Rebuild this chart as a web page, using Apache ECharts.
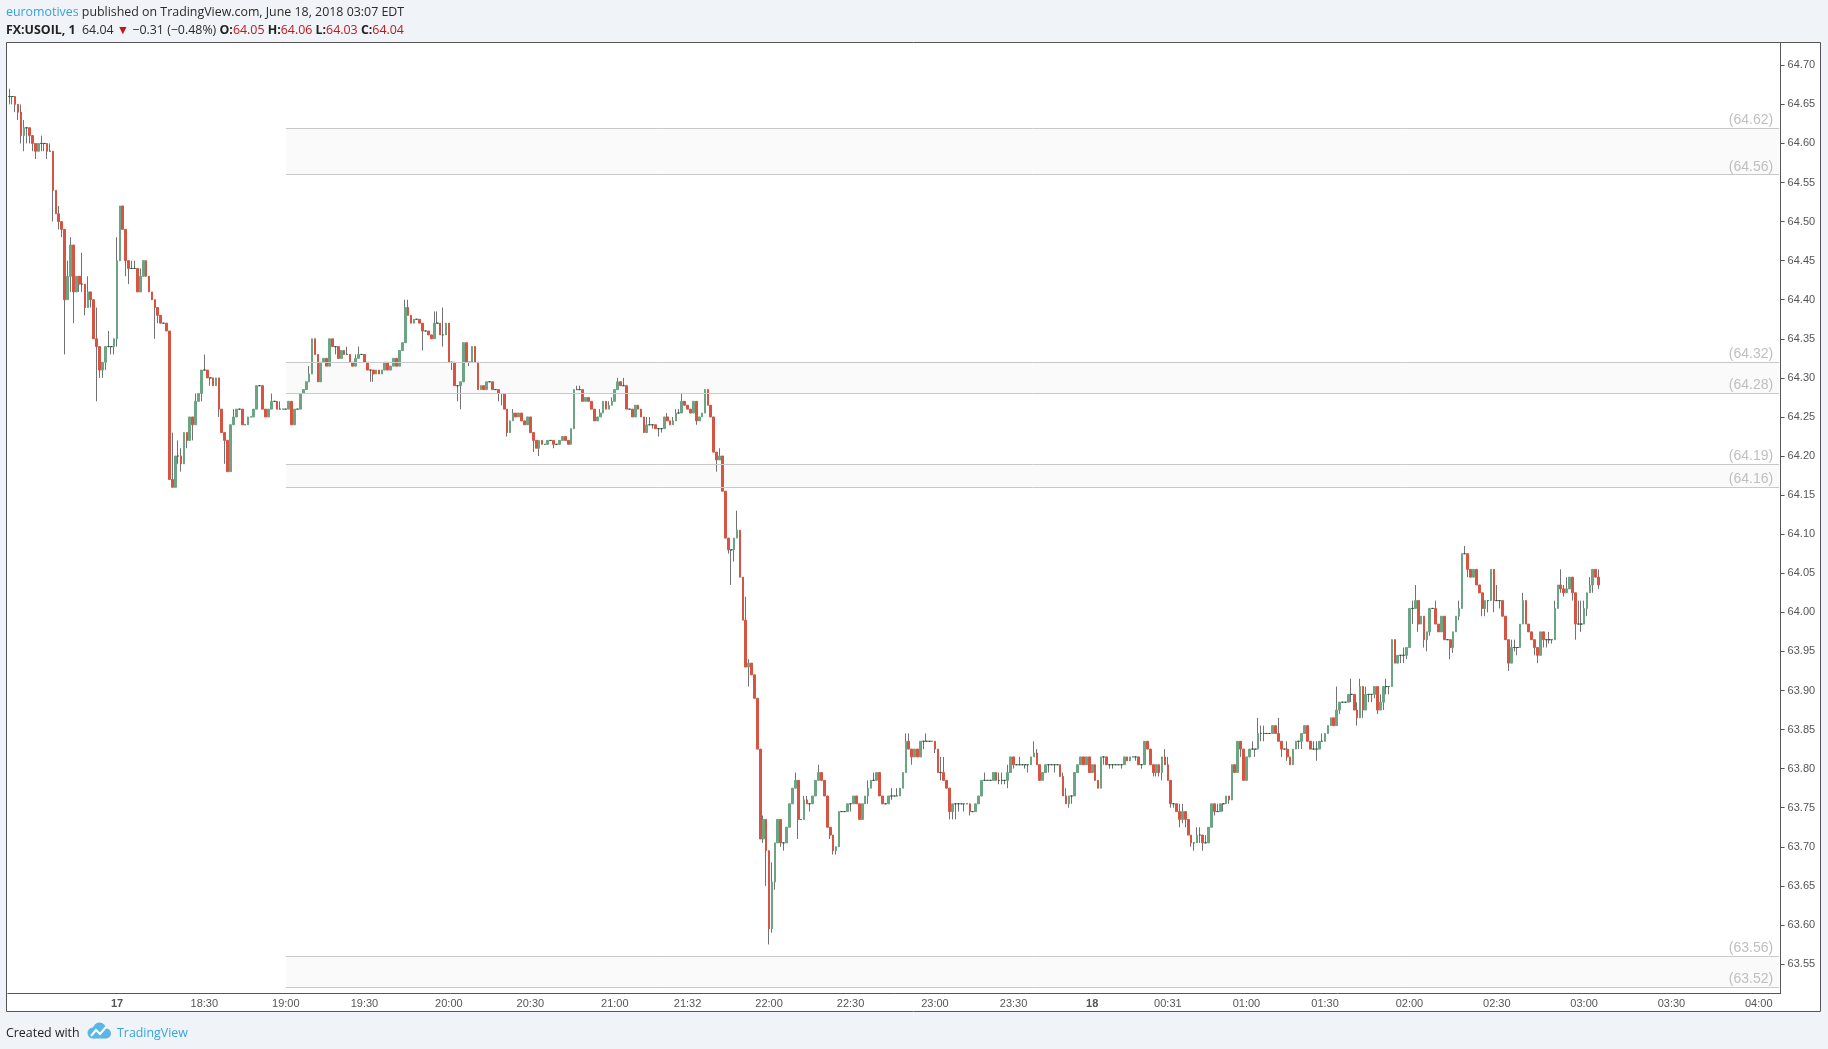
<!DOCTYPE html>
<html>
<head>
<meta charset="utf-8">
<title>FX:USOIL, 1</title>
<script src="https://cdn.jsdelivr.net/npm/echarts@6/dist/echarts.min.js"></script>
<style>
  html, body { margin: 0; padding: 0; background: #f0f3f7; }
  #main { width: 1828px; height: 1049px; }
</style>
</head>
<body>
<div id="main"></div>
<script>
// one-minute bars (index = bar slot on the time axis)
const opens = [
  /* 0 */ 64.66,64.66,64.66,64.65,64.64,64.61,64.62,64.62,64.61,64.60,
  /* 10 */ 64.59,64.60,64.60,64.60,64.59,64.59,64.54,64.51,64.50,64.49,
  /* 20 */ 64.40,64.43,64.47,64.41,64.43,64.42,64.42,64.39,64.41,64.40,
  /* 30 */ 64.35,64.34,64.31,64.32,64.34,64.34,64.34,64.35,64.45,64.52,
  /* 40 */ 64.49,64.45,64.44,64.44,64.44,64.41,64.43,64.45,64.43,64.41,
  /* 50 */ 64.40,64.39,64.38,64.37,64.37,64.36,64.17,64.16,64.20,64.20,
  /* 60 */ 64.19,64.23,64.22,64.25,64.24,64.27,64.28,64.31,64.31,64.30,
  /* 70 */ 64.30,64.29,64.30,64.26,64.23,64.22,64.18,64.24,64.25,64.26,
  /* 80 */ 64.26,64.24,64.24,64.25,64.25,64.26,64.29,64.29,64.26,64.25,
  /* 90 */ 64.26,64.27,64.27,64.26,64.26,64.26,64.26,64.27,64.24,64.26,
  /* 100 */ 64.26,64.28,64.285,64.295,64.305,64.35,64.33,64.295,64.32,64.325,
  /* 110 */ 64.315,64.35,64.34,64.34,64.325,64.335,64.33,64.33,64.32,64.315,
  /* 120 */ 64.325,64.33,64.33,64.32,64.31,64.31,64.305,64.31,64.305,64.31,
  /* 130 */ 64.32,64.31,64.315,64.325,64.315,64.335,64.345,64.39,64.38,64.37,
  /* 140 */ 64.375,64.375,64.37,64.36,64.36,64.355,64.35,64.37,64.37,64.355,
  /* 150 */ 64.355,64.37,64.32,64.32,64.29,64.29,64.295,64.345,64.32,64.32,
  /* 160 */ 64.34,64.32,64.285,64.29,64.285,64.295,64.295,64.285,64.285,64.28,
  /* 170 */ 64.28,64.26,64.23,64.245,64.255,64.25,64.255,64.245,64.24,64.25,
  /* 180 */ 64.23,64.22,64.21,64.22,64.215,64.215,64.22,64.22,64.215,64.215,
  /* 190 */ 64.22,64.225,64.22,64.215,64.235,64.285,64.285,64.285,64.27,64.275,
  /* 200 */ 64.27,64.26,64.245,64.25,64.255,64.27,64.26,64.265,64.27,64.285,
  /* 210 */ 64.295,64.29,64.29,64.26,64.26,64.25,64.265,64.26,64.25,64.23,
  /* 220 */ 64.24,64.24,64.24,64.235,64.235,64.235,64.25,64.245,64.24,64.245,
  /* 230 */ 64.255,64.255,64.27,64.265,64.26,64.255,64.27,64.245,64.25,64.255,
  /* 240 */ 64.285,64.265,64.25,64.205,64.195,64.20,64.155,64.095,64.08,64.08,
  /* 250 */ 64.095,64.105,64.045,63.99,63.93,63.935,63.92,63.89,63.825,63.71,
  /* 260 */ 63.735,63.695,63.595,63.655,63.705,63.735,63.705,63.705,63.725,63.755,
  /* 270 */ 63.775,63.785,63.735,63.735,63.76,63.755,63.755,63.765,63.785,63.795,
  /* 280 */ 63.785,63.765,63.725,63.715,63.695,63.70,63.745,63.745,63.745,63.755,
  /* 290 */ 63.755,63.765,63.755,63.735,63.755,63.765,63.775,63.785,63.785,63.795,
  /* 300 */ 63.765,63.755,63.755,63.765,63.765,63.765,63.765,63.775,63.795,63.835,
  /* 310 */ 63.825,63.815,63.825,63.815,63.835,63.835,63.835,63.835,63.835,63.825,
  /* 320 */ 63.795,63.795,63.785,63.775,63.745,63.755,63.755,63.755,63.755,63.755,
  /* 330 */ 63.755,63.745,63.745,63.755,63.765,63.785,63.785,63.785,63.785,63.795,
  /* 340 */ 63.785,63.785,63.785,63.785,63.795,63.815,63.805,63.805,63.805,63.805,
  /* 350 */ 63.805,63.805,63.815,63.82,63.805,63.785,63.795,63.805,63.805,63.805,
  /* 360 */ 63.805,63.805,63.79,63.765,63.755,63.765,63.765,63.795,63.805,63.815,
  /* 370 */ 63.805,63.815,63.795,63.805,63.785,63.775,63.815,63.815,63.805,63.805,
  /* 380 */ 63.805,63.805,63.805,63.805,63.815,63.81,63.815,63.815,63.815,63.805,
  /* 390 */ 63.805,63.835,63.825,63.805,63.795,63.805,63.795,63.815,63.805,63.785,
  /* 400 */ 63.755,63.755,63.745,63.735,63.745,63.735,63.715,63.705,63.705,63.715,
  /* 410 */ 63.715,63.705,63.705,63.725,63.755,63.745,63.745,63.755,63.755,63.765,
  /* 420 */ 63.76,63.805,63.795,63.835,63.825,63.785,63.815,63.825,63.825,63.825,
  /* 430 */ 63.845,63.845,63.845,63.845,63.845,63.855,63.845,63.835,63.825,63.825,
  /* 440 */ 63.815,63.805,63.825,63.835,63.835,63.845,63.855,63.835,63.825,63.825,
  /* 450 */ 63.825,63.835,63.835,63.845,63.855,63.865,63.855,63.875,63.885,63.885,
  /* 460 */ 63.885,63.895,63.895,63.875,63.865,63.905,63.875,63.895,63.895,63.895,
  /* 470 */ 63.905,63.875,63.885,63.905,63.905,63.905,63.965,63.935,63.945,63.945,
  /* 480 */ 63.945,63.955,64.005,64.005,64.015,63.985,63.995,63.965,63.975,64.005,
  /* 490 */ 64.005,63.985,63.975,63.995,63.965,63.965,63.955,63.975,63.995,64.005,
  /* 500 */ 64.075,64.075,64.055,64.045,64.055,64.035,64.025,64.005,64.015,64.015,
  /* 510 */ 64.055,64.015,64.015,64.015,63.995,63.965,63.935,63.955,63.955,63.955,
  /* 520 */ 63.985,64.015,63.985,63.975,63.965,63.955,63.945,63.975,63.965,63.965,
  /* 530 */ 63.965,63.965,64.005,64.035,64.03,64.025,64.03,64.045,64.025,63.985,
  /* 540 */ 63.985,63.985,64.005,64.025,64.035,64.055,64.045
];

const closes = [
  /* 0 */ 64.66,64.66,64.65,64.64,64.61,64.62,64.62,64.61,64.60,64.59,
  /* 10 */ 64.60,64.60,64.60,64.59,64.59,64.54,64.51,64.50,64.49,64.40,
  /* 20 */ 64.43,64.47,64.41,64.43,64.42,64.42,64.39,64.41,64.40,64.35,
  /* 30 */ 64.34,64.31,64.32,64.34,64.34,64.34,64.35,64.45,64.52,64.49,
  /* 40 */ 64.45,64.44,64.44,64.44,64.41,64.43,64.45,64.43,64.41,64.40,
  /* 50 */ 64.39,64.38,64.37,64.37,64.36,64.17,64.16,64.20,64.20,64.19,
  /* 60 */ 64.23,64.22,64.25,64.24,64.27,64.28,64.31,64.31,64.30,64.30,
  /* 70 */ 64.29,64.30,64.26,64.23,64.22,64.18,64.24,64.25,64.26,64.26,
  /* 80 */ 64.24,64.24,64.25,64.25,64.26,64.29,64.29,64.26,64.25,64.26,
  /* 90 */ 64.27,64.27,64.26,64.26,64.26,64.26,64.27,64.24,64.26,64.26,
  /* 100 */ 64.28,64.285,64.295,64.305,64.35,64.33,64.295,64.32,64.325,64.315,
  /* 110 */ 64.35,64.34,64.34,64.325,64.335,64.33,64.33,64.32,64.315,64.325,
  /* 120 */ 64.33,64.33,64.32,64.31,64.31,64.305,64.31,64.305,64.31,64.32,
  /* 130 */ 64.31,64.315,64.325,64.315,64.335,64.345,64.39,64.38,64.37,64.375,
  /* 140 */ 64.375,64.37,64.36,64.36,64.355,64.35,64.37,64.37,64.355,64.355,
  /* 150 */ 64.37,64.32,64.32,64.29,64.29,64.295,64.345,64.32,64.32,64.34,
  /* 160 */ 64.32,64.285,64.29,64.285,64.295,64.295,64.285,64.285,64.28,64.28,
  /* 170 */ 64.26,64.23,64.245,64.255,64.25,64.255,64.245,64.24,64.25,64.23,
  /* 180 */ 64.22,64.21,64.22,64.215,64.215,64.22,64.22,64.215,64.215,64.22,
  /* 190 */ 64.225,64.22,64.215,64.235,64.285,64.285,64.285,64.27,64.275,64.27,
  /* 200 */ 64.26,64.245,64.25,64.255,64.27,64.26,64.265,64.27,64.285,64.295,
  /* 210 */ 64.29,64.29,64.26,64.26,64.25,64.265,64.26,64.25,64.23,64.24,
  /* 220 */ 64.24,64.24,64.235,64.235,64.235,64.25,64.245,64.24,64.245,64.255,
  /* 230 */ 64.255,64.27,64.265,64.26,64.255,64.27,64.245,64.25,64.255,64.285,
  /* 240 */ 64.265,64.25,64.205,64.195,64.20,64.155,64.095,64.08,64.08,64.095,
  /* 250 */ 64.105,64.045,63.99,63.93,63.935,63.92,63.89,63.825,63.71,63.735,
  /* 260 */ 63.695,63.595,63.655,63.705,63.735,63.705,63.705,63.725,63.755,63.775,
  /* 270 */ 63.785,63.735,63.735,63.76,63.755,63.755,63.765,63.785,63.795,63.785,
  /* 280 */ 63.765,63.725,63.715,63.695,63.70,63.745,63.745,63.745,63.755,63.755,
  /* 290 */ 63.765,63.755,63.735,63.755,63.765,63.775,63.785,63.785,63.795,63.765,
  /* 300 */ 63.755,63.755,63.765,63.765,63.765,63.765,63.775,63.795,63.835,63.825,
  /* 310 */ 63.815,63.825,63.815,63.835,63.835,63.835,63.835,63.835,63.825,63.795,
  /* 320 */ 63.795,63.785,63.775,63.745,63.755,63.755,63.755,63.755,63.755,63.755,
  /* 330 */ 63.745,63.745,63.755,63.765,63.785,63.785,63.785,63.785,63.795,63.785,
  /* 340 */ 63.785,63.785,63.785,63.795,63.815,63.805,63.805,63.805,63.805,63.805,
  /* 350 */ 63.805,63.815,63.82,63.805,63.785,63.795,63.805,63.805,63.805,63.805,
  /* 360 */ 63.805,63.79,63.765,63.755,63.765,63.765,63.795,63.805,63.815,63.805,
  /* 370 */ 63.815,63.795,63.805,63.785,63.775,63.815,63.815,63.805,63.805,63.805,
  /* 380 */ 63.805,63.805,63.805,63.815,63.81,63.815,63.815,63.815,63.805,63.805,
  /* 390 */ 63.835,63.825,63.805,63.795,63.805,63.795,63.815,63.805,63.785,63.755,
  /* 400 */ 63.755,63.745,63.735,63.745,63.735,63.715,63.705,63.705,63.715,63.715,
  /* 410 */ 63.705,63.705,63.725,63.755,63.745,63.745,63.755,63.755,63.765,63.76,
  /* 420 */ 63.805,63.795,63.835,63.825,63.785,63.815,63.825,63.825,63.825,63.845,
  /* 430 */ 63.845,63.845,63.845,63.845,63.855,63.845,63.835,63.825,63.825,63.815,
  /* 440 */ 63.805,63.825,63.835,63.835,63.845,63.855,63.835,63.825,63.825,63.825,
  /* 450 */ 63.835,63.835,63.845,63.855,63.865,63.855,63.875,63.885,63.885,63.885,
  /* 460 */ 63.895,63.895,63.875,63.865,63.905,63.875,63.895,63.895,63.895,63.905,
  /* 470 */ 63.875,63.885,63.905,63.905,63.905,63.965,63.935,63.945,63.945,63.945,
  /* 480 */ 63.955,64.005,64.005,64.015,63.985,63.995,63.965,63.975,64.005,64.005,
  /* 490 */ 63.985,63.975,63.995,63.965,63.965,63.955,63.975,63.995,64.005,64.075,
  /* 500 */ 64.075,64.055,64.045,64.055,64.035,64.025,64.005,64.015,64.015,64.055,
  /* 510 */ 64.015,64.015,64.015,63.995,63.965,63.935,63.955,63.955,63.955,63.985,
  /* 520 */ 64.015,63.985,63.975,63.965,63.955,63.945,63.975,63.965,63.965,63.965,
  /* 530 */ 63.965,64.005,64.035,64.03,64.025,64.03,64.045,64.025,63.985,63.985,
  /* 540 */ 63.985,64.005,64.025,64.035,64.055,64.045,64.035
];

const lows = [
  /* 0 */ 64.65,64.65,64.64,64.63,64.60,64.59,64.60,64.60,64.59,64.58,
  /* 10 */ 64.59,64.59,64.59,64.58,64.59,64.50,64.51,64.49,64.48,64.33,
  /* 20 */ 64.40,64.41,64.37,64.41,64.41,64.41,64.38,64.39,64.39,64.35,
  /* 30 */ 64.27,64.30,64.30,64.31,64.34,64.33,64.33,64.34,64.45,64.49,
  /* 40 */ 64.43,64.42,64.44,64.44,64.41,64.41,64.43,64.43,64.41,64.40,
  /* 50 */ 64.35,64.37,64.37,64.37,64.36,64.17,64.16,64.16,64.19,64.18,
  /* 60 */ 64.19,64.21,64.22,64.22,64.24,64.27,64.27,64.31,64.30,64.29,
  /* 70 */ 64.29,64.29,64.25,64.23,64.19,64.18,64.18,64.24,64.25,64.26,
  /* 80 */ 64.24,64.24,64.24,64.25,64.25,64.26,64.29,64.26,64.25,64.25,
  /* 90 */ 64.26,64.27,64.26,64.26,64.26,64.26,64.26,64.24,64.24,64.26,
  /* 100 */ 64.26,64.28,64.285,64.295,64.305,64.33,64.295,64.295,64.32,64.315,
  /* 110 */ 64.315,64.34,64.33,64.325,64.325,64.33,64.33,64.32,64.315,64.315,
  /* 120 */ 64.325,64.33,64.32,64.31,64.295,64.295,64.305,64.305,64.305,64.31,
  /* 130 */ 64.31,64.31,64.315,64.315,64.315,64.335,64.345,64.38,64.37,64.37,
  /* 140 */ 64.375,64.37,64.335,64.36,64.355,64.35,64.35,64.37,64.355,64.34,
  /* 150 */ 64.355,64.32,64.31,64.29,64.27,64.26,64.295,64.32,64.315,64.32,
  /* 160 */ 64.32,64.285,64.285,64.285,64.285,64.295,64.285,64.285,64.27,64.265,
  /* 170 */ 64.26,64.225,64.23,64.245,64.25,64.25,64.245,64.24,64.24,64.23,
  /* 180 */ 64.205,64.21,64.20,64.215,64.215,64.215,64.22,64.21,64.215,64.215,
  /* 190 */ 64.22,64.22,64.215,64.215,64.235,64.285,64.285,64.27,64.27,64.27,
  /* 200 */ 64.26,64.245,64.245,64.25,64.255,64.26,64.26,64.265,64.27,64.285,
  /* 210 */ 64.29,64.29,64.26,64.26,64.25,64.25,64.26,64.25,64.23,64.23,
  /* 220 */ 64.24,64.235,64.235,64.225,64.23,64.235,64.245,64.24,64.24,64.245,
  /* 230 */ 64.255,64.255,64.265,64.26,64.255,64.255,64.24,64.245,64.25,64.255,
  /* 240 */ 64.265,64.25,64.205,64.18,64.195,64.155,64.095,64.075,64.035,64.065,
  /* 250 */ 64.095,64.045,63.99,63.93,63.905,63.92,63.89,63.825,63.71,63.705,
  /* 260 */ 63.65,63.575,63.59,63.645,63.705,63.70,63.695,63.705,63.725,63.755,
  /* 270 */ 63.775,63.71,63.735,63.735,63.755,63.745,63.755,63.765,63.785,63.785,
  /* 280 */ 63.765,63.725,63.71,63.69,63.69,63.70,63.745,63.745,63.745,63.745,
  /* 290 */ 63.755,63.755,63.735,63.735,63.755,63.755,63.775,63.785,63.785,63.765,
  /* 300 */ 63.755,63.755,63.755,63.76,63.765,63.765,63.765,63.775,63.795,63.825,
  /* 310 */ 63.805,63.815,63.815,63.815,63.825,63.835,63.835,63.835,63.82,63.795,
  /* 320 */ 63.785,63.785,63.775,63.735,63.735,63.735,63.745,63.755,63.745,63.755,
  /* 330 */ 63.74,63.745,63.745,63.755,63.765,63.785,63.785,63.785,63.785,63.785,
  /* 340 */ 63.78,63.78,63.78,63.775,63.795,63.80,63.805,63.805,63.805,63.80,
  /* 350 */ 63.795,63.805,63.815,63.805,63.785,63.785,63.795,63.795,63.805,63.795,
  /* 360 */ 63.805,63.79,63.765,63.755,63.75,63.755,63.765,63.795,63.805,63.805,
  /* 370 */ 63.805,63.795,63.795,63.785,63.775,63.775,63.805,63.805,63.80,63.80,
  /* 380 */ 63.805,63.805,63.80,63.805,63.81,63.81,63.815,63.81,63.805,63.80,
  /* 390 */ 63.805,63.825,63.805,63.79,63.79,63.79,63.785,63.805,63.785,63.75,
  /* 400 */ 63.75,63.745,63.725,63.73,63.725,63.715,63.70,63.695,63.705,63.705,
  /* 410 */ 63.695,63.705,63.705,63.725,63.74,63.745,63.745,63.745,63.755,63.755,
  /* 420 */ 63.76,63.795,63.795,63.815,63.785,63.785,63.815,63.825,63.815,63.825,
  /* 430 */ 63.835,63.835,63.845,63.845,63.845,63.845,63.835,63.815,63.825,63.81,
  /* 440 */ 63.805,63.805,63.825,63.825,63.825,63.845,63.835,63.825,63.825,63.81,
  /* 450 */ 63.825,63.835,63.835,63.845,63.855,63.855,63.855,63.87,63.885,63.885,
  /* 460 */ 63.885,63.885,63.875,63.855,63.865,63.865,63.875,63.885,63.885,63.89,
  /* 470 */ 63.87,63.875,63.875,63.895,63.895,63.905,63.935,63.935,63.935,63.935,
  /* 480 */ 63.94,63.955,63.985,64.005,63.975,63.985,63.955,63.95,63.97,64.005,
  /* 490 */ 63.985,63.975,63.975,63.965,63.965,63.94,63.948,63.975,63.99,64.005,
  /* 500 */ 64.075,64.045,64.045,64.045,64.035,64.025,63.995,63.995,64.00,64.015,
  /* 510 */ 64.00,64.015,64.005,63.995,63.965,63.925,63.935,63.95,63.945,63.955,
  /* 520 */ 63.985,63.985,63.975,63.965,63.945,63.935,63.945,63.955,63.955,63.96,
  /* 530 */ 63.96,63.965,64.005,64.025,64.02,64.025,64.03,64.015,63.965,63.985,
  /* 540 */ 63.975,63.985,63.995,64.025,64.025,64.045,64.03
];

const highs = [
  /* 0 */ 64.67,64.66,64.66,64.65,64.65,64.63,64.62,64.62,64.61,64.60,
  /* 10 */ 64.60,64.61,64.60,64.60,64.60,64.59,64.54,64.52,64.50,64.49,
  /* 20 */ 64.45,64.48,64.47,64.43,64.43,64.46,64.42,64.43,64.41,64.40,
  /* 30 */ 64.39,64.34,64.32,64.34,64.36,64.34,64.35,64.48,64.52,64.52,
  /* 40 */ 64.49,64.45,64.45,64.45,64.44,64.44,64.45,64.45,64.43,64.41,
  /* 50 */ 64.40,64.39,64.38,64.37,64.37,64.36,64.23,64.20,64.22,64.21,
  /* 60 */ 64.23,64.23,64.25,64.25,64.28,64.28,64.31,64.33,64.31,64.30,
  /* 70 */ 64.30,64.30,64.30,64.26,64.23,64.22,64.24,64.26,64.26,64.26,
  /* 80 */ 64.26,64.24,64.25,64.25,64.26,64.29,64.29,64.29,64.26,64.26,
  /* 90 */ 64.28,64.27,64.27,64.27,64.26,64.26,64.27,64.27,64.26,64.26,
  /* 100 */ 64.28,64.285,64.295,64.315,64.35,64.35,64.33,64.32,64.325,64.325,
  /* 110 */ 64.35,64.35,64.34,64.34,64.335,64.335,64.34,64.33,64.32,64.33,
  /* 120 */ 64.34,64.33,64.33,64.32,64.31,64.31,64.31,64.31,64.31,64.32,
  /* 130 */ 64.32,64.315,64.325,64.325,64.335,64.345,64.40,64.40,64.38,64.375,
  /* 140 */ 64.375,64.375,64.37,64.36,64.36,64.355,64.385,64.385,64.37,64.39,
  /* 150 */ 64.37,64.37,64.32,64.32,64.29,64.295,64.345,64.345,64.32,64.34,
  /* 160 */ 64.34,64.32,64.29,64.29,64.295,64.295,64.295,64.285,64.285,64.28,
  /* 170 */ 64.28,64.26,64.245,64.26,64.255,64.255,64.255,64.245,64.25,64.25,
  /* 180 */ 64.23,64.22,64.22,64.22,64.215,64.22,64.22,64.22,64.215,64.22,
  /* 190 */ 64.225,64.225,64.22,64.235,64.285,64.29,64.29,64.285,64.275,64.275,
  /* 200 */ 64.27,64.26,64.25,64.26,64.27,64.27,64.27,64.275,64.285,64.30,
  /* 210 */ 64.295,64.30,64.29,64.26,64.26,64.265,64.265,64.26,64.25,64.25,
  /* 220 */ 64.25,64.24,64.24,64.235,64.235,64.25,64.255,64.245,64.25,64.26,
  /* 230 */ 64.26,64.28,64.27,64.265,64.26,64.27,64.27,64.25,64.255,64.285,
  /* 240 */ 64.285,64.265,64.25,64.205,64.21,64.20,64.155,64.095,64.08,64.095,
  /* 250 */ 64.13,64.105,64.045,64.02,63.94,63.935,63.92,63.89,63.825,63.74,
  /* 260 */ 63.735,63.695,63.68,63.705,63.735,63.735,63.705,63.725,63.755,63.775,
  /* 270 */ 63.795,63.785,63.735,63.765,63.765,63.755,63.765,63.785,63.805,63.795,
  /* 280 */ 63.785,63.765,63.725,63.715,63.70,63.745,63.745,63.745,63.755,63.755,
  /* 290 */ 63.765,63.765,63.755,63.755,63.765,63.785,63.785,63.795,63.795,63.795,
  /* 300 */ 63.765,63.755,63.765,63.775,63.765,63.775,63.775,63.795,63.845,63.845,
  /* 310 */ 63.825,63.825,63.825,63.835,63.835,63.845,63.835,63.835,63.835,63.825,
  /* 320 */ 63.815,63.815,63.785,63.775,63.755,63.755,63.755,63.755,63.755,63.755,
  /* 330 */ 63.755,63.745,63.755,63.765,63.785,63.795,63.785,63.785,63.795,63.795,
  /* 340 */ 63.795,63.795,63.785,63.805,63.815,63.815,63.805,63.815,63.805,63.805,
  /* 350 */ 63.805,63.815,63.835,63.825,63.805,63.795,63.805,63.805,63.805,63.805,
  /* 360 */ 63.805,63.805,63.795,63.775,63.765,63.765,63.795,63.805,63.815,63.815,
  /* 370 */ 63.815,63.815,63.805,63.805,63.785,63.815,63.815,63.815,63.805,63.805,
  /* 380 */ 63.805,63.805,63.805,63.815,63.815,63.815,63.815,63.815,63.815,63.805,
  /* 390 */ 63.835,63.835,63.825,63.805,63.805,63.805,63.815,63.825,63.815,63.785,
  /* 400 */ 63.755,63.755,63.755,63.755,63.745,63.735,63.715,63.705,63.725,63.725,
  /* 410 */ 63.715,63.715,63.725,63.755,63.755,63.755,63.755,63.755,63.765,63.765,
  /* 420 */ 63.805,63.805,63.835,63.835,63.825,63.815,63.825,63.835,63.825,63.865,
  /* 430 */ 63.855,63.855,63.845,63.845,63.855,63.855,63.865,63.835,63.825,63.835,
  /* 440 */ 63.815,63.825,63.835,63.835,63.845,63.855,63.855,63.835,63.835,63.835,
  /* 450 */ 63.835,63.845,63.845,63.855,63.865,63.865,63.905,63.885,63.885,63.885,
  /* 460 */ 63.895,63.915,63.895,63.885,63.915,63.905,63.905,63.895,63.895,63.905,
  /* 470 */ 63.905,63.895,63.905,63.915,63.905,63.965,63.965,63.945,63.945,63.955,
  /* 480 */ 63.955,64.005,64.015,64.035,64.015,63.995,63.995,63.975,64.005,64.005,
  /* 490 */ 64.015,63.985,63.995,63.995,63.965,63.965,63.975,63.995,64.015,64.075,
  /* 500 */ 64.085,64.075,64.055,64.055,64.055,64.035,64.025,64.015,64.015,64.055,
  /* 510 */ 64.055,64.035,64.015,64.015,63.995,63.965,63.965,63.965,63.955,63.985,
  /* 520 */ 64.025,64.015,63.985,63.975,63.965,63.955,63.975,63.975,63.965,63.975,
  /* 530 */ 63.965,64.015,64.035,64.055,64.035,64.045,64.045,64.045,64.025,64.015,
  /* 540 */ 64.015,64.015,64.025,64.045,64.055,64.055,64.055
];

// time axis: bar slots that carry a label, and the label text
const tickSlots  = [37, 67, 95, 122, 151, 179, 208, 233, 261, 289, 318, 345, 372, 398, 425, 452, 481, 511, 541, 571, 601];
const tickLabels = ['17', '18:30', '19:00', '19:30', '20:00', '20:30', '21:00', '21:32', '22:00', '22:30',
                    '23:00', '23:30', '18', '00:31', '01:00', '01:30', '02:00', '02:30', '03:00', '03:30', '04:00'];
const slotCount = 609;

// price scale labels
const priceTicks = [63.55, 63.60, 63.65, 63.70, 63.75, 63.80, 63.85, 63.90, 63.95, 64.00, 64.05, 64.10,
                    64.15, 64.20, 64.25, 64.30, 64.35, 64.40, 64.45, 64.50, 64.55, 64.60, 64.65, 64.70];

// drawn price zones (upper, lower), starting at the 19:00 bar
const zoneLevels = [[64.62, 64.56], [64.32, 64.28], [64.19, 64.16], [63.56, 63.52]];
const zoneStartLabel = '19:00';

const UP = '#6ba583', DOWN = '#d75442', WICK = '#737375';

const slots = Array.from({ length: slotCount }, (_, i) => String(i));
const tickMap = {};
tickSlots.forEach((s, i) => { tickMap[s] = tickLabels[i]; });

const wickData = opens.map((o, i) => [o, closes[i], lows[i], highs[i]]);
const bodyData = opens.map((o, i) => [o, closes[i], Math.min(o, closes[i]), Math.max(o, closes[i])]);

const zoneStart = String(tickSlots[tickLabels.indexOf(zoneStartLabel)]);
const zoneEnd = String(slotCount - 1);
const zoneAreas = zoneLevels.map(z => [{ coord: [zoneStart, z[0]] }, { coord: [zoneEnd, z[1]] }]);
const zoneLines = [];
zoneLevels.forEach(z => {
  z.forEach(v => {
    zoneLines.push([
      { coord: [zoneStart, v] },
      { coord: [zoneEnd, v], name: '(' + v.toFixed(2) + ')' }
    ]);
  });
});

const chart = echarts.init(document.getElementById('main'));

const option = {
  animation: false,
  backgroundColor: '#f0f3f7',
  title: [
    {
      text: '{u|euromotives} published on TradingView.com, June 18, 2018 03:07 EDT',
      left: 6, top: 6, padding: 0,
      textStyle: {
        fontFamily: 'Open Sans', fontSize: 12.4, fontWeight: 'normal', color: '#2a2a2a',
        rich: { u: { fontFamily: 'Open Sans', fontSize: 12.4, color: '#37a3dc' } }
      }
    },
    {
      text: '{b|FX:USOIL, 1}  64.04 {r|▼} −0.31 (−0.48%) {b|O:}{r|64.05} {b|H:}{r|64.06} {b|L:}{r|64.03} {b|C:}{r|64.04}',
      left: 6, top: 24, padding: 0,
      textStyle: {
        fontFamily: 'Open Sans', fontSize: 12.4, fontWeight: 'normal', color: '#2a2a2a',
        rich: {
          b: { fontFamily: 'Open Sans', fontSize: 12.4, fontWeight: 'bold', color: '#222' },
          r: { fontFamily: 'Open Sans', fontSize: 12.4, color: '#c1171c' }
        }
      }
    },
    {
      text: 'Created with',
      left: 6, top: 1027, padding: 0,
      textStyle: { fontFamily: 'Open Sans', fontSize: 12.4, fontWeight: 'normal', color: '#222' }
    },
    {
      text: 'TradingView',
      left: 117, top: 1027, padding: 0,
      textStyle: { fontFamily: 'Open Sans', fontSize: 12.4, fontWeight: 'normal', color: '#37a3dc' }
    }
  ],
  graphic: [
    {
      type: 'rect', z: 0,
      shape: { x: 6.5, y: 42.5, width: 1814, height: 969 },
      style: { fill: '#ffffff', stroke: '#555', lineWidth: 1 }
    },
    // TradingView cloud mark, built from simple shapes
    { type: 'circle', z: 1, shape: { cx: 93, cy: 1033, r: 5.5 }, style: { fill: '#5ab6e4' } },
    { type: 'circle', z: 1, shape: { cx: 99.5, cy: 1029, r: 6.5 }, style: { fill: '#5ab6e4' } },
    { type: 'circle', z: 1, shape: { cx: 106, cy: 1033.5, r: 5 }, style: { fill: '#5ab6e4' } },
    { type: 'rect', z: 1, shape: { x: 93, y: 1032, width: 13, height: 6.5 }, style: { fill: '#5ab6e4' } },
    {
      type: 'polyline', z: 2,
      shape: { points: [[91, 1036], [96, 1030], [100, 1034], [106, 1027]] },
      style: { stroke: '#ffffff', lineWidth: 2, fill: null }
    }
  ],
  grid: {
    left: 7.85, right: 47.4, top: 43, bottom: 56,
    outerBoundsMode: 'none'
  },
  xAxis: {
    type: 'category',
    data: slots,
    boundaryGap: true,
    axisLine: { lineStyle: { color: '#555', width: 1 } },
    axisTick: {
      alignWithLabel: true, length: 3,
      interval: (i) => tickMap[i] !== undefined,
      lineStyle: { color: '#555' }
    },
    axisLabel: {
      interval: (i) => tickMap[i] !== undefined,
      formatter: (v, i) => {
        const t = tickMap[i];
        return t.indexOf(':') < 0 ? '{d|' + t + '}' : t;
      },
      margin: 5,
      color: '#555',
      fontFamily: 'Liberation Sans',
      fontSize: 11,
      rich: { d: { fontWeight: 'bold', color: '#555', fontFamily: 'Liberation Sans', fontSize: 11 } }
    },
    splitLine: { show: false }
  },
  yAxis: {
    type: 'value',
    position: 'right',
    scale: true,
    min: 63.5129,
    max: 64.7285,
    axisLine: { show: true, lineStyle: { color: '#555', width: 1 } },
    axisTick: { show: true, length: 4, customValues: priceTicks, lineStyle: { color: '#555' } },
    axisLabel: {
      customValues: priceTicks,
      formatter: v => v.toFixed(2),
      margin: 7,
      color: '#555',
      fontFamily: 'Liberation Sans',
      fontSize: 11
    },
    splitLine: { show: false }
  },
  series: [
    {
      name: 'zones',
      type: 'line',
      data: [],
      z: 1,
      silent: true,
      markArea: {
        silent: true,
        itemStyle: { color: '#fafafa' },
        data: zoneAreas
      },
      markLine: {
        silent: true,
        symbol: ['none', 'none'],
        lineStyle: { color: '#c9c9c9', width: 1, type: 'solid' },
        label: {
          show: true,
          position: 'insideEndTop',
          formatter: '{b}',
          color: '#bfbfbf',
          fontFamily: 'Liberation Sans',
          fontSize: 14,
          distance: 1,
          padding: [0, 5, 0, 0]
        },
        data: zoneLines
      }
    },
    {
      name: 'wicks',
      type: 'candlestick',
      data: wickData,
      z: 3,
      large: false,
      barWidth: 0.1,
      itemStyle: {
        color: WICK, color0: WICK,
        borderColor: WICK, borderColor0: WICK, borderColorDoji: WICK,
        borderWidth: 1
      }
    },
    {
      name: 'USOIL',
      type: 'candlestick',
      data: bodyData,
      z: 4,
      large: false,
      barWidth: 2.2,
      itemStyle: {
        color: UP, color0: DOWN,
        borderColor: UP, borderColor0: DOWN, borderColorDoji: '#225437',
        borderWidth: 1
      }
    }
  ]
};

chart.setOption(option);
</script>
</body>
</html>
